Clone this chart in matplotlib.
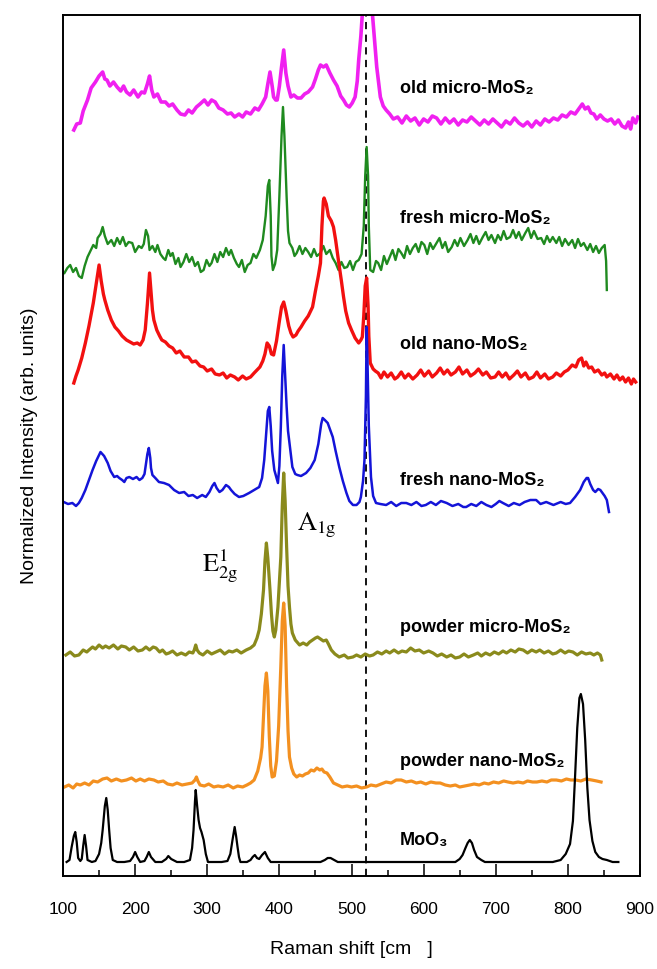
import matplotlib
matplotlib.use("Agg")

import matplotlib.pyplot as plt
from matplotlib.ticker import MultipleLocator
import numpy as np

plt.rcParams["font.family"] = ["Liberation Sans", "DejaVu Sans"]

# spectra: (Raman shift in cm-1, stacked intensity in arb. units)
old_micro = [
    (115, 746), (119, 752), (124, 753), (128, 765), (134, 776), (139, 788), (145, 794), (150, 800),
    (155, 804), (158, 797), (161, 796), (165, 790), (170, 794), (175, 789), (180, 785), (184, 790),
    (188, 784), (193, 781), (198, 786), (204, 779), (209, 784), (213, 783), (217, 792), (220, 800),
    (223, 786), (226, 779), (231, 782), (236, 774), (242, 774), (247, 770), (252, 772), (258, 766),
    (263, 762), (269, 761), (274, 766), (279, 763), (285, 769), (290, 772), (296, 776), (301, 771),
    (306, 776), (311, 774), (316, 768), (322, 766), (328, 762), (333, 763), (338, 759), (344, 762),
    (349, 759), (354, 764), (360, 762), (366, 768), (371, 766), (376, 772), (381, 779), (384, 792),
    (387, 804), (390, 790), (392, 779), (395, 776), (397, 776), (400, 790), (403, 809), (406, 826),
    (409, 803), (412, 790), (416, 779), (420, 781), (425, 778), (430, 778), (435, 782), (440, 784),
    (446, 789), (450, 797), (454, 806), (457, 811), (461, 809), (465, 811), (470, 803), (475, 796),
    (480, 790), (485, 780), (489, 776), (493, 771), (497, 769), (501, 773), (505, 779), (508, 795),
    (510, 816), (513, 840), (515, 862), (518, 920), (522, 960), (526, 910), (529, 862), (532, 835),
    (535, 809), (540, 779), (544, 770), (548, 766), (553, 762), (558, 757), (564, 759), (570, 753),
    (576, 760), (582, 755), (588, 758), (594, 751), (600, 757), (606, 754), (612, 760), (618, 758),
    (624, 752), (630, 758), (636, 753), (642, 757), (648, 751), (654, 756), (660, 754), (666, 759),
    (672, 755), (678, 751), (684, 756), (690, 752), (696, 757), (702, 753), (708, 749), (714, 755),
    (720, 752), (726, 758), (732, 753), (738, 750), (744, 754), (750, 749), (756, 755), (762, 751),
    (768, 757), (774, 754), (780, 758), (786, 756), (792, 761), (798, 759), (804, 764), (810, 762),
    (816, 768), (820, 772), (824, 767), (828, 769), (832, 763), (836, 762), (840, 757), (845, 761),
    (850, 757), (855, 755), (860, 757), (865, 752), (870, 756), (875, 750), (880, 748), (884, 754),
    (887, 747), (890, 758), (894, 753), (897, 759),
]

fresh_micro = [
    (102, 603), (106, 608), (110, 611), (114, 604), (118, 608), (122, 600), (126, 598), (130, 610),
    (134, 619), (138, 625), (142, 631), (146, 628), (148, 638), (152, 642), (155, 649), (158, 640),
    (162, 632), (167, 636), (171, 630), (175, 638), (179, 632), (183, 639), (187, 630), (191, 634),
    (196, 633), (200, 624), (205, 630), (209, 628), (212, 632), (215, 646), (218, 640), (220, 626),
    (224, 630), (228, 624), (231, 631), (235, 622), (239, 618), (242, 616), (246, 626), (249, 620),
    (252, 623), (256, 612), (260, 618), (263, 609), (267, 614), (271, 622), (275, 614), (279, 619),
    (283, 610), (287, 614), (291, 604), (295, 606), (299, 616), (303, 610), (306, 613), (310, 622),
    (314, 614), (318, 624), (322, 619), (326, 628), (330, 621), (333, 626), (337, 618), (341, 612),
    (344, 609), (348, 616), (352, 604), (356, 611), (360, 613), (364, 622), (368, 618), (373, 626),
    (377, 636), (381, 660), (384, 690), (386, 696), (388, 660), (389, 620), (391, 606), (394, 612),
    (397, 626), (400, 680), (403, 740), (405, 769), (407, 740), (410, 680), (412, 645), (414, 633),
    (418, 628), (421, 620), (424, 623), (428, 630), (432, 622), (436, 628), (440, 624), (444, 619),
    (448, 627), (452, 620), (457, 623), (461, 630), (465, 622), (470, 626), (474, 618), (478, 613),
    (482, 606), (486, 614), (490, 608), (494, 609), (498, 615), (502, 606), (506, 614), (510, 616),
    (514, 622), (517, 650), (519, 700), (521, 729), (523, 700), (524, 650), (526, 606), (530, 604),
    (534, 615), (537, 613), (541, 606), (545, 620), (549, 612), (553, 619), (557, 626), (561, 616),
    (565, 627), (569, 623), (573, 618), (577, 630), (581, 622), (585, 628), (589, 632), (593, 624),
    (597, 634), (601, 631), (605, 622), (609, 633), (613, 627), (618, 633), (622, 638), (626, 628),
    (630, 634), (634, 624), (639, 629), (643, 636), (647, 630), (651, 638), (656, 630), (661, 636),
    (665, 642), (669, 633), (673, 640), (677, 632), (682, 639), (686, 644), (690, 636), (694, 641),
    (699, 633), (703, 641), (707, 636), (711, 645), (715, 637), (720, 639), (724, 646), (728, 638),
    (732, 644), (736, 636), (741, 643), (745, 648), (749, 638), (753, 645), (758, 637), (763, 638),
    (767, 632), (771, 640), (775, 634), (779, 639), (784, 633), (788, 639), (792, 630), (796, 637),
    (801, 631), (806, 636), (810, 628), (814, 637), (818, 630), (822, 633), (827, 626), (831, 632),
    (835, 624), (839, 630), (843, 623), (847, 628), (851, 631), (853, 615), (854, 586),
]

old_nano = [
    (115, 493), (118, 500), (121, 506), (126, 518), (131, 533), (136, 550), (142, 573), (146, 592),
    (150, 611), (153, 595), (156, 582), (158, 576), (162, 566), (167, 556), (172, 549), (177, 545),
    (182, 540), (188, 536), (193, 534), (198, 532), (203, 533), (207, 531), (211, 536), (214, 546),
    (217, 572), (220, 603), (222, 585), (224, 566), (226, 556), (230, 546), (234, 540), (237, 536),
    (242, 534), (247, 530), (252, 528), (257, 523), (262, 525), (268, 519), (274, 519), (279, 514),
    (284, 515), (290, 510), (295, 509), (300, 505), (306, 507), (311, 502), (317, 501), (322, 503),
    (327, 498), (332, 501), (338, 499), (343, 496), (349, 500), (354, 497), (360, 499), (365, 503),
    (369, 506), (373, 509), (377, 515), (380, 522), (383, 533), (386, 530), (389, 522), (392, 521),
    (396, 535), (400, 555), (403, 569), (406, 574), (409, 565), (413, 550), (416, 543), (419, 539),
    (423, 541), (426, 545), (430, 549), (435, 555), (440, 560), (446, 569), (450, 585), (454, 600),
    (457, 613), (459, 650), (461, 675), (462, 678), (465, 672), (468, 660), (472, 655), (475, 649),
    (478, 636), (482, 615), (486, 595), (489, 579), (492, 565), (496, 553), (500, 546), (505, 538),
    (510, 533), (513, 536), (515, 539), (517, 560), (519, 590), (521, 598), (523, 570), (524, 540),
    (526, 513), (530, 507), (533, 505), (537, 503), (541, 498), (545, 504), (550, 499), (555, 503),
    (560, 497), (564, 499), (569, 504), (574, 498), (579, 502), (585, 497), (591, 501), (596, 506),
    (601, 500), (607, 505), (612, 499), (618, 503), (623, 508), (628, 502), (633, 506), (638, 501),
    (644, 504), (649, 509), (654, 502), (660, 506), (665, 500), (671, 503), (676, 507), (682, 501),
    (687, 504), (693, 498), (699, 499), (704, 504), (709, 499), (714, 503), (719, 497), (725, 501),
    (730, 505), (735, 499), (741, 503), (746, 497), (752, 499), (757, 504), (762, 498), (768, 502),
    (773, 497), (779, 499), (784, 503), (790, 500), (795, 504), (800, 506), (806, 511), (811, 509),
    (815, 516), (819, 518), (822, 510), (825, 514), (829, 508), (833, 509), (837, 504), (842, 506),
    (847, 501), (851, 503), (854, 499), (859, 502), (864, 497), (868, 501), (872, 496), (876, 499),
    (880, 494), (884, 498), (888, 492), (891, 497), (894, 494),
]

fresh_nano = [
    (101, 374), (107, 372), (113, 373), (118, 370), (122, 373), (126, 378), (131, 386), (136, 396),
    (141, 406), (146, 415), (152, 424), (157, 420), (162, 413), (166, 405), (171, 399), (175, 400),
    (178, 398), (182, 396), (185, 394), (188, 398), (192, 399), (197, 397), (202, 399), (206, 396),
    (210, 398), (213, 402), (215, 412), (217, 422), (219, 428), (221, 418), (222, 408), (224, 401),
    (228, 398), (233, 394), (240, 393), (247, 391), (254, 386), (261, 383), (268, 384), (274, 380),
    (280, 381), (286, 378), (293, 381), (298, 379), (303, 384), (307, 390), (310, 393), (313, 388),
    (317, 384), (321, 386), (326, 391), (330, 389), (333, 386), (338, 382), (344, 379), (350, 380),
    (358, 383), (365, 386), (372, 389), (376, 398), (379, 416), (382, 445), (384, 465), (386, 469),
    (388, 450), (390, 425), (393, 406), (396, 398), (398, 393), (400, 410), (402, 449), (404, 500),
    (406, 531), (408, 500), (410, 470), (412, 445), (414, 433), (418, 409), (422, 402), (425, 401),
    (430, 400), (437, 403), (443, 408), (449, 416), (454, 432), (458, 452), (460, 458), (463, 456),
    (467, 453), (470, 447), (474, 439), (478, 425), (483, 409), (488, 395), (493, 383), (497, 375),
    (502, 371), (507, 371), (511, 374), (513, 379), (516, 395), (518, 416), (520, 480), (521, 549),
    (522, 520), (524, 450), (527, 399), (530, 380), (534, 373), (540, 372), (548, 371), (555, 374),
    (562, 370), (569, 373), (576, 373), (583, 371), (590, 374), (597, 370), (603, 371), (610, 374),
    (617, 371), (624, 375), (632, 373), (640, 370), (648, 372), (655, 369), (659, 369), (666, 372),
    (673, 370), (680, 374), (687, 371), (694, 369), (700, 372), (705, 375), (710, 373), (718, 370),
    (725, 373), (733, 371), (740, 374), (748, 376), (756, 376), (762, 372), (770, 374), (780, 371),
    (790, 374), (797, 372), (803, 373), (810, 379), (817, 386), (822, 394), (826, 398), (828, 398),
    (831, 392), (835, 386), (838, 384), (842, 387), (845, 386), (847, 384), (851, 380), (854, 376),
    (857, 364),
]

powder_micro = [
    (104, 221), (110, 224), (116, 220), (122, 221), (128, 226), (133, 224), (136, 226), (141, 229),
    (145, 227), (150, 231), (155, 228), (159, 230), (164, 228), (170, 231), (176, 227), (181, 230),
    (187, 229), (192, 226), (198, 229), (204, 225), (210, 226), (215, 229), (220, 226), (225, 229),
    (229, 228), (234, 224), (238, 226), (243, 222), (247, 223), (252, 225), (258, 221), (264, 223),
    (270, 221), (275, 224), (280, 223), (282, 226), (284, 231), (286, 226), (289, 223), (294, 221),
    (300, 225), (306, 222), (312, 224), (318, 226), (324, 222), (330, 225), (335, 224), (341, 226),
    (347, 223), (354, 226), (360, 228), (365, 231), (369, 238), (372, 246), (375, 262), (378, 286),
    (380, 315), (382, 333), (384, 318), (387, 286), (389, 262), (391, 245), (393, 239), (395, 246),
    (398, 269), (400, 295), (402, 319), (404, 370), (406, 403), (408, 375), (410, 330), (412, 290),
    (414, 269), (416, 252), (418, 243), (422, 236), (428, 231), (433, 233), (438, 231), (442, 234),
    (446, 236), (450, 238), (453, 239), (457, 237), (461, 235), (465, 236), (468, 232), (472, 226),
    (477, 222), (483, 219), (490, 221), (495, 218), (502, 219), (507, 221), (513, 219), (519, 222),
    (525, 220), (530, 221), (536, 224), (542, 222), (548, 225), (553, 223), (559, 226), (565, 223),
    (570, 225), (576, 224), (582, 228), (588, 225), (594, 226), (600, 223), (607, 225), (613, 223),
    (619, 220), (625, 222), (632, 219), (638, 221), (644, 218), (650, 219), (656, 222), (662, 219),
    (669, 221), (675, 223), (680, 220), (686, 223), (692, 221), (698, 224), (704, 222), (710, 225),
    (715, 223), (721, 226), (727, 224), (732, 227), (738, 226), (744, 223), (750, 226), (756, 224),
    (761, 226), (767, 223), (773, 225), (779, 222), (784, 223), (790, 226), (796, 223), (801, 225),
    (807, 224), (813, 221), (819, 224), (825, 222), (831, 223), (836, 221), (841, 223), (845, 221),
    (847, 216),
]

powder_nano = [
    (102, 89), (108, 91), (114, 88), (119, 92), (124, 91), (130, 93), (136, 91), (142, 95),
    (148, 94), (155, 97), (161, 98), (167, 95), (174, 97), (181, 95), (188, 96), (195, 98),
    (201, 95), (207, 97), (213, 95), (219, 97), (226, 96), (232, 94), (239, 95), (245, 92),
    (252, 91), (258, 93), (265, 91), (272, 92), (279, 93), (283, 96), (285, 99), (287, 95),
    (290, 91), (296, 90), (302, 92), (309, 89), (315, 90), (322, 89), (329, 91), (336, 88),
    (342, 90), (349, 89), (355, 91), (360, 93), (365, 96), (370, 105), (374, 118), (376, 129),
    (378, 160), (380, 190), (382, 203), (384, 185), (386, 140), (388, 110), (390, 99), (393, 100),
    (396, 115), (399, 150), (402, 210), (404, 255), (406, 273), (408, 250), (410, 190), (412, 145),
    (414, 119), (417, 108), (420, 102), (424, 99), (428, 101), (432, 100), (436, 102), (440, 103),
    (444, 106), (448, 105), (452, 108), (456, 106), (459, 107), (462, 104), (466, 103), (470, 99),
    (475, 93), (481, 91), (487, 89), (494, 90), (500, 89), (507, 90), (514, 88), (521, 89),
    (527, 91), (534, 90), (541, 92), (548, 94), (555, 93), (562, 96), (569, 96), (576, 94),
    (583, 95), (590, 93), (596, 94), (603, 92), (610, 94), (617, 93), (623, 93), (630, 91),
    (637, 90), (644, 91), (650, 89), (657, 90), (664, 91), (670, 92), (677, 91), (684, 93),
    (690, 92), (697, 94), (704, 93), (711, 95), (717, 94), (724, 93), (731, 94), (738, 93),
    (744, 95), (751, 94), (757, 94), (764, 95), (771, 94), (777, 96), (784, 96), (791, 95),
    (798, 97), (804, 96), (811, 96), (818, 95), (825, 97), (833, 96), (840, 95), (846, 94),
]

moo3 = [
    (105, 14), (109, 16), (112, 29), (115, 40), (117, 44), (119, 34), (121, 18), (124, 15),
    (126, 17), (128, 30), (130, 41), (132, 30), (134, 16), (140, 14), (145, 15), (150, 22),
    (153, 33), (155, 46), (158, 70), (160, 78), (162, 66), (164, 46), (166, 28), (169, 16),
    (175, 14), (185, 14), (193, 15), (197, 19), (200, 24), (203, 19), (207, 14), (213, 15),
    (216, 19), (219, 24), (222, 19), (228, 14), (237, 14), (243, 17), (246, 20), (250, 17),
    (258, 14), (268, 14), (276, 16), (279, 28), (281, 46), (283, 75), (284, 86), (286, 70),
    (288, 56), (290, 48), (292, 44), (295, 36), (298, 22), (301, 14), (310, 14), (320, 14),
    (328, 15), (332, 22), (335, 36), (338, 49), (340, 40), (342, 29), (344, 19), (346, 14),
    (355, 14), (360, 16), (363, 19), (366, 21), (369, 18), (372, 17), (376, 21), (380, 24),
    (384, 18), (388, 14), (400, 14), (440, 14), (457, 14), (463, 16), (467, 18), (471, 18),
    (476, 16), (481, 14), (520, 14), (600, 14), (644, 14), (650, 17), (654, 21), (658, 28),
    (661, 33), (664, 36), (667, 33), (670, 26), (674, 19), (680, 16), (685, 14), (760, 14),
    (779, 14), (790, 16), (797, 22), (803, 32), (807, 55), (810, 100), (813, 148), (816, 178),
    (818, 182), (821, 172), (824, 136), (827, 88), (830, 56), (834, 35), (838, 24), (843, 19),
    (848, 17), (854, 16), (862, 14), (870, 14),
]

sample_names = [
    "old micro-MoS\u2082", "fresh micro-MoS\u2082", "old nano-MoS\u2082", "fresh nano-MoS\u2082",
    "powder micro-MoS\u2082", "powder nano-MoS\u2082", "MoO\u2083",
]
name_levels = [788, 658, 531, 396, 249, 114, 36]
si_line = 520


def main() -> None:
    fig = plt.figure(figsize=(6.57, 9.69), dpi=100)
    ax = fig.add_axes([63 / 657, 1 - 876 / 969, 577 / 657, 861 / 969])

    spectra = [old_micro, fresh_micro, old_nano, fresh_nano, powder_micro, powder_nano, moo3]
    colors = ["#f020f0", "#1f8a1f", "#f21010", "#1414d8", "#8a8a1c", "#f39020", "black"]
    widths = [2.6, 1.7, 2.4, 1.8, 2.3, 2.3, 1.6]

    ax.axvline(si_line, color="black", ls=(0, (4, 3)), lw=1.3, zorder=1)
    for data, color, lw in zip(spectra, colors, widths):
        x, y = np.array(data).T
        ax.plot(x, y, color=color, lw=lw, zorder=2)

    for name, level in zip(sample_names, name_levels):
        ax.text(567, level, name, fontsize=13, fontweight="bold", va="center", ha="left")

    ax.text(293, 304, r"$\mathrm{E}^{1}_{2\mathrm{g}}$", fontsize=19,
            math_fontfamily="stix", ha="left", va="baseline")
    ax.text(424, 346, r"$\mathrm{A}_{1\mathrm{g}}$", fontsize=19,
            math_fontfamily="stix", ha="left", va="baseline")

    ax.set_xlim(100, 900)
    ax.set_ylim(0, 861)
    ax.set_yticks([])
    ax.xaxis.set_major_locator(MultipleLocator(100))
    ax.xaxis.set_minor_locator(MultipleLocator(50))
    ax.tick_params(axis="x", which="major", direction="in", length=9, width=1.1,
                   pad=19, labelsize=12.5)
    ax.tick_params(axis="x", which="minor", direction="in", length=4.5, width=1.1)
    for spine in ax.spines.values():
        spine.set_linewidth(1.4)

    ax.set_xlabel("Raman shift [cm   ]", fontsize=14, labelpad=17)
    ax.set_ylabel("Normalized Intensity (arb. units)", fontsize=14, labelpad=18)

    fig.savefig("out.png", dpi=100)
    plt.close(fig)


if __name__ == "__main__":
    main()
